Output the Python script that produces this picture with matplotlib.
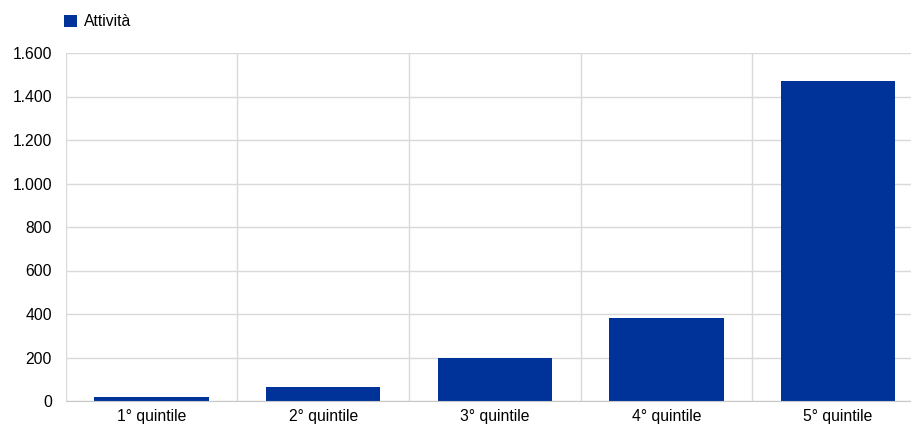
import numpy as np
import matplotlib.pyplot as plt
from matplotlib.ticker import FuncFormatter, FixedLocator
from matplotlib.patches import Patch

plt.rcParams['font.family'] = ['Liberation Sans', 'DejaVu Sans']

categories = ['1° quintile', '2° quintile', '3° quintile', '4° quintile', '5° quintile']
attivita = [17, 66, 196, 382, 1471]

bar_color = '#003399'
grid_color = '#d9d9d9'

fig = plt.figure(figsize=(9.12, 4.26), dpi=100)
ax = fig.add_axes([65.7 / 912, 25 / 426, 858.3 / 912, 348 / 426])

x = np.arange(len(categories))
ax.bar(x, attivita, width=0.665, color=bar_color, zorder=3)

ax.set_xlim(-0.5, len(categories) - 0.5)
ax.set_ylim(0, 1600)
ax.set_yticks(np.arange(0, 1601, 200))
ax.yaxis.set_major_formatter(FuncFormatter(lambda v, p: f'{int(v):,}'.replace(',', '.')))
ax.set_xticks(x)
ax.set_xticklabels(categories)
ax.xaxis.set_minor_locator(FixedLocator(np.arange(-0.5, len(categories), 1.0)))

ax.grid(True, axis='y', which='major', color=grid_color, lw=1, zorder=0)
ax.grid(True, axis='x', which='minor', color=grid_color, lw=1, zorder=0)
ax.tick_params(axis='both', which='both', length=0, labelsize=11.3, colors='black')
ax.tick_params(axis='y', pad=9.9)
ax.tick_params(axis='x', pad=5.5)

for s in ['top', 'right', 'left']:
    ax.spines[s].set_visible(False)
ax.spines['bottom'].set_color('#c8c8c8')
ax.spines['bottom'].set_zorder(4)

handles = [Patch(facecolor=bar_color, edgecolor='none', label='Attività')]
fig.legend(handles=handles, loc='center left', bbox_to_anchor=(57.5 / 912, 1 - 22 / 426),
           frameon=False, fontsize=11.3, handlelength=0.85, handleheight=0.85,
           handletextpad=0.45, borderaxespad=0)

fig.savefig('out.png', dpi=100)
